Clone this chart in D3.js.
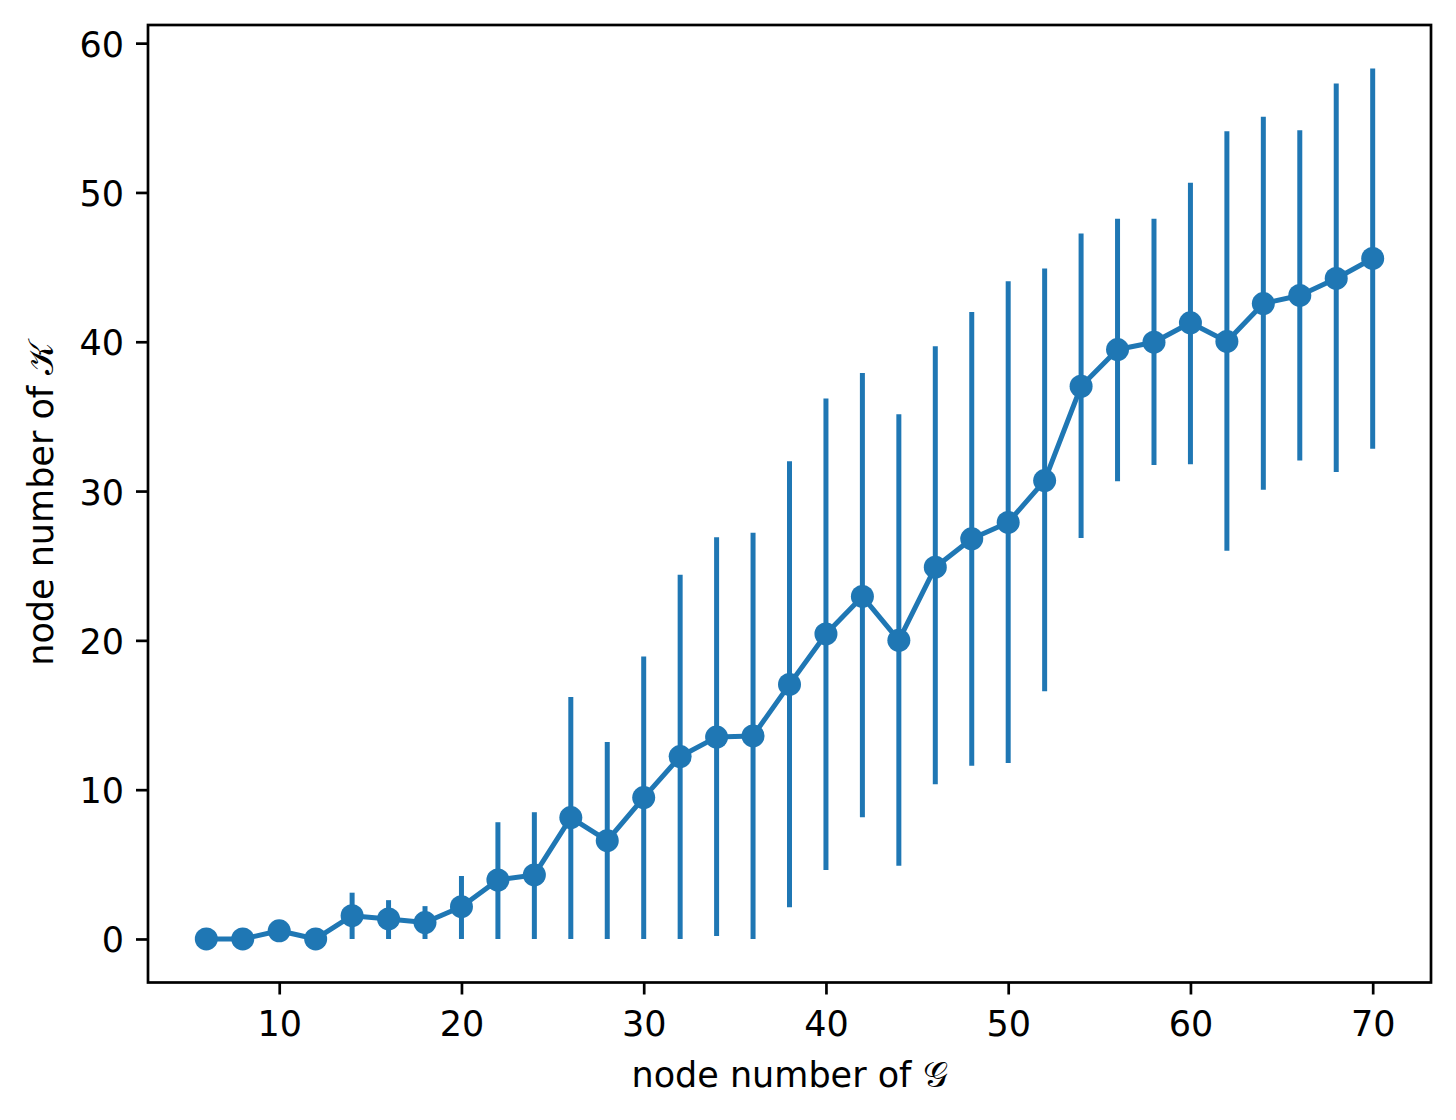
<!DOCTYPE html>
<html>
<head>
<meta charset="utf-8">
<script src="https://cdn.jsdelivr.net/npm/d3@7"></script>
<style>
  html, body { margin: 0; padding: 0; background: #fff; }
  svg text { font-family: "DejaVu Sans", sans-serif; fill: #000; }
</style>
</head>
<body>
<svg id="chart" width="1456" height="1120"></svg>
<script>
// ---- data ----
const nodesG = [6, 8, 10, 12, 14, 16, 18, 20, 22, 24, 26, 28, 30, 32, 34, 36, 38, 40, 42, 44, 46, 48, 50, 52, 54, 56, 58, 60, 62, 64, 66, 68, 70];
const meanK  = [0, 0, 0.55, 0, 1.56, 1.34, 1.1, 2.16, 3.95, 4.29, 8.13, 6.58, 9.47, 12.22, 13.52, 13.6, 17.05, 20.43, 22.94, 20.0, 24.9, 26.8, 27.9, 30.7, 37.02, 39.48, 39.97, 41.27, 40.02, 42.56, 43.1, 44.24, 45.58];
const upperK = [0, 0, 1.05, 0, 3.1, 2.6, 2.2, 4.22, 7.82, 8.49, 16.2, 13.2, 18.92, 24.4, 26.9, 27.2, 32.0, 36.2, 37.9, 35.15, 39.7, 42.0, 44.05, 44.9, 47.25, 48.24, 48.24, 50.65, 54.1, 55.07, 54.17, 57.3, 58.3];
const lowerK = [0, 0, 0.05, 0, 0, 0, 0, 0, 0, 0, 0, 0, 0, 0, 0.2, 0, 2.12, 4.62, 8.15, 4.9, 10.36, 11.6, 11.78, 16.6, 26.85, 30.65, 31.75, 31.8, 26.0, 30.09, 32.04, 31.28, 32.84];
const xTicks = [10, 20, 30, 40, 50, 60, 70];
const yTicks = [0, 10, 20, 30, 40, 50, 60];
const xLabelText = "node number of ";
const yLabelText = "node number of ";
const xLabelSym = "\u{1D4A2}"; // script G
const yLabelSym = "\u{1D4A6}"; // script K

(function () {
// ---- layout ----
const mLeft = 148, mTop = 25, mRight = 1431, mBottom = 982.5;
const color = "#1f77b4";
const fs = 35;

const data = nodesG.map((x, i) => ({ x, y: meanK[i], lo: lowerK[i], hi: upperK[i] }));

// matplotlib-like 5% margins
const xMin = d3.min(nodesG), xMax = d3.max(nodesG);
const yMin = d3.min(lowerK), yMax = d3.max(upperK);
const xPad = (xMax - xMin) * 0.05, yPad = (yMax - yMin) * 0.05;

const x = d3.scaleLinear().domain([xMin - xPad, xMax + xPad]).range([mLeft, mRight]);
const y = d3.scaleLinear().domain([yMin - yPad, yMax + yPad]).range([mBottom, mTop]);

const svg = d3.select("#chart");

// error bars
svg.append("g").selectAll("line")
  .data(data.filter(d => d.hi > d.lo))
  .join("line")
  .attr("x1", d => x(d.x)).attr("x2", d => x(d.x))
  .attr("y1", d => y(d.lo)).attr("y2", d => y(d.hi))
  .attr("stroke", color).attr("stroke-width", 5);

// line
svg.append("path")
  .datum(data)
  .attr("fill", "none")
  .attr("stroke", color)
  .attr("stroke-width", 5)
  .attr("stroke-linejoin", "round")
  .attr("d", d3.line().x(d => x(d.x)).y(d => y(d.y)));

// markers
svg.append("g").selectAll("circle")
  .data(data)
  .join("circle")
  .attr("cx", d => x(d.x)).attr("cy", d => y(d.y))
  .attr("r", 11.5)
  .attr("fill", color);

// axes
const xAxis = d3.axisBottom(x).tickValues(xTicks).tickSize(12).tickPadding(8).tickFormat(d3.format("d"));
const yAxis = d3.axisLeft(y).tickValues(yTicks).tickSize(12).tickPadding(12).tickFormat(d3.format("d"));

const gx = svg.append("g").attr("transform", `translate(0,${mBottom})`).call(xAxis);
const gy = svg.append("g").attr("transform", `translate(${mLeft},0)`).call(yAxis);

[gx, gy].forEach(g => {
  g.select(".domain").remove();
  g.selectAll(".tick line").attr("stroke", "#000").attr("stroke-width", 2.7);
  g.selectAll(".tick text").attr("font-size", fs).attr("fill", "#000")
    .style("font-family", "'DejaVu Sans', sans-serif");
});
gx.selectAll(".tick text").attr("dy", null).attr("y", 53);
gy.selectAll(".tick text").attr("dy", null).attr("y", 13).attr("x", -24);

// frame
svg.append("rect")
  .attr("x", mLeft).attr("y", mTop)
  .attr("width", mRight - mLeft).attr("height", mBottom - mTop)
  .attr("fill", "none").attr("stroke", "#000").attr("stroke-width", 2.7);

// axis labels
const xl = svg.append("text")
  .attr("x", (mLeft + mRight) / 2).attr("y", 1087)
  .attr("text-anchor", "middle").attr("font-size", fs);
xl.append("tspan").text(xLabelText);
xl.append("tspan").attr("font-family", "'DejaVu Serif', 'DejaVu Sans', serif").text(xLabelSym);

const yl = svg.append("text")
  .attr("transform", `translate(53,${(mTop + mBottom) / 2}) rotate(-90)`)
  .attr("text-anchor", "middle").attr("font-size", fs);
yl.append("tspan").text(yLabelText);
yl.append("tspan").attr("font-family", "'DejaVu Serif', 'DejaVu Sans', serif").text(yLabelSym);
})();
</script>
</body>
</html>
